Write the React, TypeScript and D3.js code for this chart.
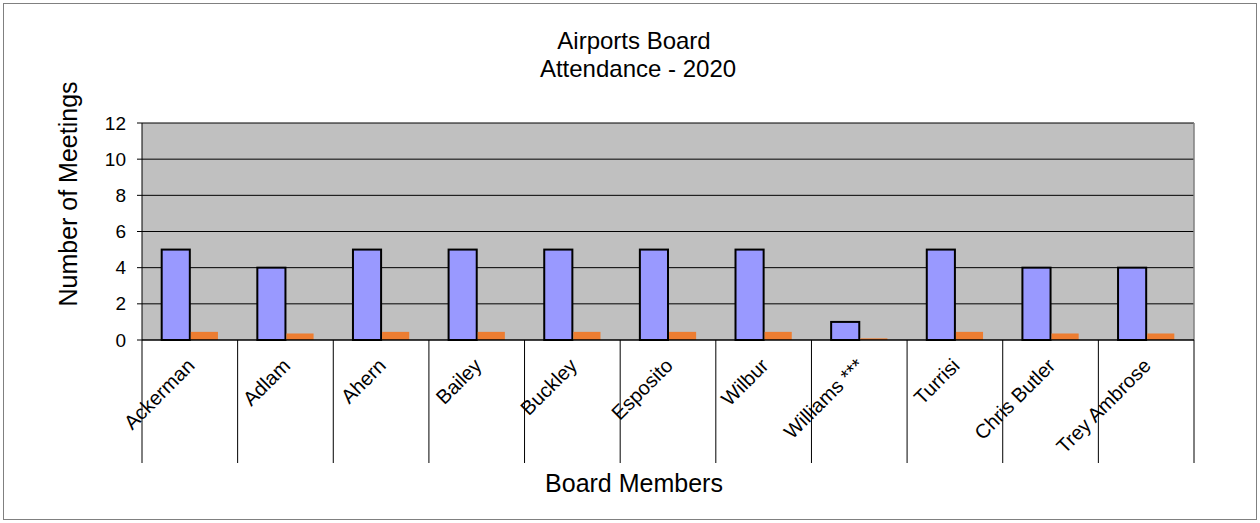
import React, { useEffect, useRef } from 'react';
import * as d3 from 'd3';

const members = ['Ackerman', 'Adlam', 'Ahern', 'Bailey', 'Buckley', 'Esposito', 'Wilbur', 'Williams ***', 'Turrisi', 'Chris Butler', 'Trey Ambrose'];
const attended = [5, 4, 5, 5, 5, 5, 5, 1, 5, 4, 4];
const ratio = [0.45, 0.36, 0.45, 0.45, 0.45, 0.45, 0.45, 0.09, 0.45, 0.36, 0.36];
const yTicks = [0, 2, 4, 6, 8, 10, 12];

const App = () => {
    const svgRef = useRef(null);

    useEffect(() => {
        const svg = d3.select(svgRef.current);
        svg.selectAll('*').remove();

        const width = 1260;
        const height = 523;
        const margin = { top: 123, right: 66, bottom: 183, left: 142 };
        const innerWidth = width - margin.left - margin.right;
        const innerHeight = height - margin.top - margin.bottom;
        const font = 'Liberation Sans, Arial, sans-serif';

        // 바깥 테두리
        svg.append('rect')
            .attr('x', 3.5).attr('y', 3.5)
            .attr('width', width - 7).attr('height', height - 7)
            .attr('fill', '#fff').attr('stroke', '#808080');

        const x = d3.scaleBand().domain(members).range([0, innerWidth]);
        const barW = x.bandwidth() / 3.4;
        const y = d3.scaleLinear().domain([0, 12]).range([innerHeight, 0]);

        const g = svg.append('g').attr('transform', `translate(${margin.left},${margin.top})`);

        g.append('rect')
            .attr('width', innerWidth).attr('height', innerHeight)
            .attr('fill', '#c0c0c0');

        // 그리드
        g.selectAll('.grid').data(yTicks.slice(1)).enter().append('line')
            .attr('x1', 0).attr('x2', innerWidth)
            .attr('y1', d => y(d)).attr('y2', d => y(d))
            .attr('stroke', '#000').attr('stroke-width', 1);

        g.append('line')
            .attr('x1', innerWidth).attr('x2', innerWidth)
            .attr('y1', 0).attr('y2', innerHeight)
            .attr('stroke', '#808080').attr('stroke-width', 1.5);

        // 막대
        g.selectAll('.bar1').data(members).enter().append('rect')
            .attr('x', d => x(d) + x.bandwidth() / 2 - barW)
            .attr('y', (d, i) => y(attended[i]))
            .attr('width', barW)
            .attr('height', (d, i) => innerHeight - y(attended[i]))
            .attr('fill', '#9999ff').attr('stroke', '#000').attr('stroke-width', 2);

        g.selectAll('.bar2').data(members).enter().append('rect')
            .attr('x', d => x(d) + x.bandwidth() / 2 + 1)
            .attr('y', (d, i) => y(ratio[i]))
            .attr('width', barW - 1)
            .attr('height', (d, i) => innerHeight - y(ratio[i]))
            .attr('fill', '#ed7d31');

        // y축
        g.append('line')
            .attr('x1', 0).attr('x2', 0).attr('y1', 0).attr('y2', innerHeight)
            .attr('stroke', '#000');
        g.selectAll('.ytick').data(yTicks).enter().append('line')
            .attr('x1', -5).attr('x2', 0)
            .attr('y1', d => y(d)).attr('y2', d => y(d))
            .attr('stroke', '#000');
        g.selectAll('.ylab').data(yTicks).enter().append('text')
            .attr('x', -16).attr('y', d => y(d)).attr('dy', '0.35em')
            .attr('text-anchor', 'end')
            .attr('font-family', font).attr('font-size', 19)
            .text(d => d);

        // x축
        g.append('line')
            .attr('x1', 0).attr('x2', innerWidth).attr('y1', innerHeight).attr('y2', innerHeight)
            .attr('stroke', '#000').attr('stroke-width', 1.5);
        const bounds = members.map(d => x(d)).concat([innerWidth]);
        g.selectAll('.xtick').data(bounds).enter().append('line')
            .attr('x1', d => d).attr('x2', d => d)
            .attr('y1', innerHeight).attr('y2', innerHeight + 123)
            .attr('stroke', '#000');
        g.selectAll('.xlab').data(members).enter().append('text')
            .attr('transform', d => `translate(${x(d) + x.bandwidth() / 2 + 6},${innerHeight + 27}) rotate(-45)`)
            .attr('text-anchor', 'end')
            .attr('font-family', font).attr('font-size', 20)
            .text(d => d);

        // 제목
        svg.append('text')
            .attr('x', 634).attr('y', 49).attr('text-anchor', 'middle')
            .attr('font-family', font).attr('font-size', 24)
            .text('Airports Board');
        svg.append('text')
            .attr('x', 638).attr('y', 77).attr('text-anchor', 'middle')
            .attr('font-family', font).attr('font-size', 24)
            .text('Attendance - 2020');
        svg.append('text')
            .attr('transform', `translate(77,194) rotate(-90)`)
            .attr('text-anchor', 'middle')
            .attr('font-family', font).attr('font-size', 25)
            .text('Number of Meetings');
        svg.append('text')
            .attr('x', 634).attr('y', 492).attr('text-anchor', 'middle')
            .attr('font-family', font).attr('font-size', 25)
            .text('Board Members');
    }, []);

    return (
        <svg ref={svgRef} width={1260} height={523} style={{ position: 'absolute', left: 0, top: 0 }} />
    );
};

export default App;
